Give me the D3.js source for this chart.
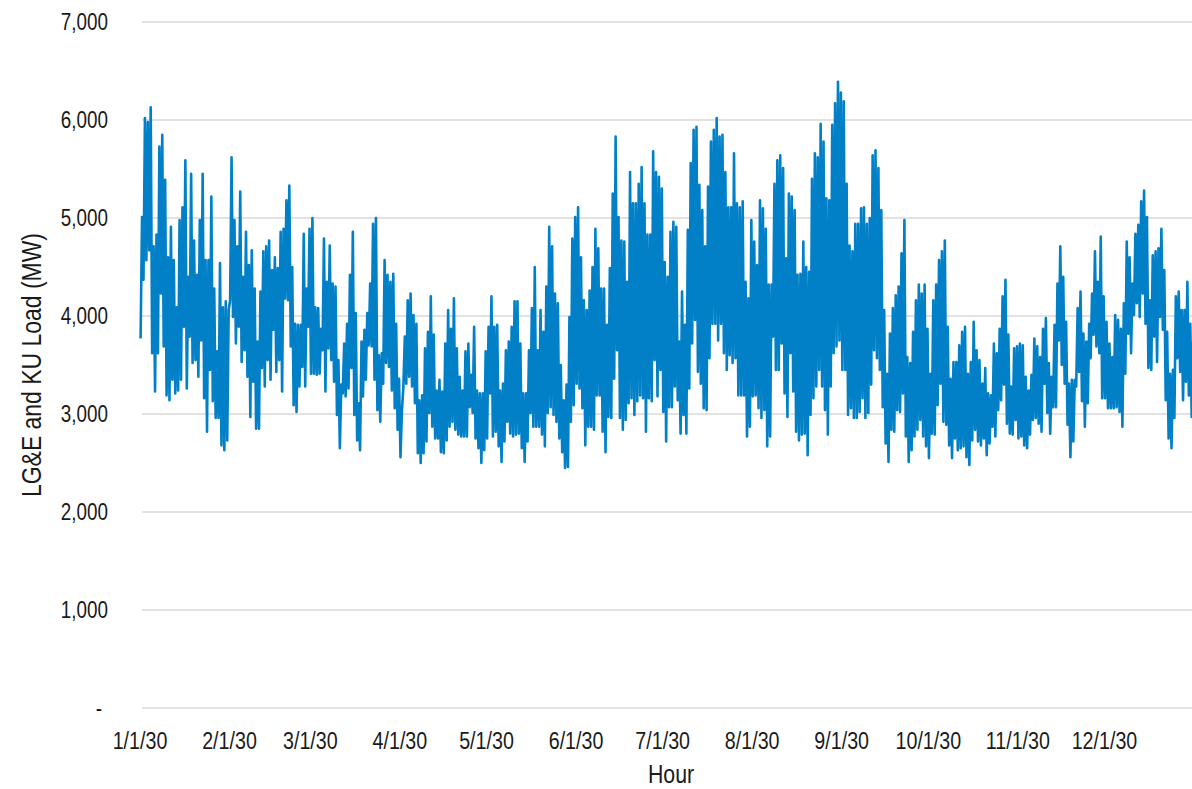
<!DOCTYPE html>
<html>
<head>
<meta charset="utf-8">
<script src="https://cdn.jsdelivr.net/npm/d3@7"></script>
<style>
  html, body { margin: 0; padding: 0; background: #fff; }
  svg { display: block; }
  text { font-family: "Liberation Sans", Arial, sans-serif; fill: #1a1a1a; }
</style>
</head>
<body>
<svg id="chart" width="1192" height="789"></svg>
<script>
// Hourly system load, 2030: each day is summarised by its overnight low and afternoon peak (MW).
const dailyHigh = [
  5010,6020,5980,6130,4710,4830,5730,5850,5390,4600,
  4910,4570,4090,4980,5110,5590,4400,5450,4770,4420,
  4980,5450,4570,4570,5220,4280,3640,4540,4090,4150,
  4060,5620,4980,4710,5270,4400,4860,4520,4670,4280,
  3740,4250,4660,4710,4770,4470,4600,4490,4860,4890,
  5180,5330,4500,3920,3910,3910,4840,4280,4890,5000,
  4090,4080,
  3870,4790,4350,4720,4330,4300,3550,3300,3720,3920,
  4420,4860,4030,3110,3740,3860,4030,4330,4940,5000,
  3600,3620,4570,4420,4350,4430,3920,3360,3040,3790,
  4160,4230,4010,3920,3140,3190,3670,3840,4200,3810,
  3240,3350,3230,3720,4060,3870,4180,3670,3380,3240,
  3640,3720,3400,3890,3240,3210,3210,3640,3890,4200,
  3890,3910,3240,3310,3650,3740,3890,4150,4150,3720,
  3210,3210,3650,4080,4500,3650,4060,3840,4300,4910,
  4710,4230,4130,3500,3140,3300,3990,4790,5010,5110,
  4600,4160,4060,4260,4500,4890,4690,4280,4280,3910,
  4490,5250,5830,5010,4770,4760,4350,5470,5150,5150,
  5350,5520,5150,4830,4830,5680,5470,5420,5300,4550,
  4400,
  4860,4960,4910,3740,4250,3910,4880,5560,5900,5930,
  5340,5080,4710,5320,5780,5900,6020,5830,5850,5470,
  5110,5110,5660,5150,5110,5170,4350,4180,4980,4760,
  4520,5180,5100,4890,4320,4320,5350,5590,5640,5510,
  4590,5250,5220,5080,4420,4430,4760,4500,4450,5400,
  5660,5620,5960,5780,5200,5180,5950,6170,6390,6280,
  6190,
  5350,4720,4660,4940,4940,5100,5110,4940,5000,5640,
  5690,5510,5080,4060,3410,3820,4080,4210,4300,4640,
  4980,3580,3520,3840,4160,4320,4230,4320,3870,3410,
  4160,4320,4570,4660,4770,3890,3360,3530,3530,3700,
  3840,3890,3410,3530,3940,3650,3550,3310,3470,3210,
  3190,3720,3620,3870,4200,4370,3810,3280,3670,3690,
  3720,3700,3380,3240,3400,3770,3690,3580,3870,3980,
  3520,3380,3910,4330,4710,4400,3940,3310,3350,3350,
  4080,4250,3820,3740,3920,4230,4660,4350,4810,4200,
  3940,3720,3580,4010,3960,3870,4130,4760,4600,4330,
  4840,4930,5170,5280,5010,4160,4620,4660,4690,4890,
  4470,3840,3410,3450,4200,4250,4060,4060,4350,3920,
  3740
];

const dailyLow = [
  3770,4370,4570,4670,3620,3230,3620,4230,3690,3190,
  3140,3350,3210,3240,3350,3890,3260,3790,3520,3550,
  3380,3750,3160,2820,3450,3130,2960,2960,2680,2630,
  2730,4160,3990,3720,3890,3530,3650,3380,2970,3330,
  2850,2850,3470,3280,3550,3350,3860,3430,3550,3230,
  4180,4160,3690,3090,3020,3280,3480,3280,3890,3410,
  3410,3400,
  3410,3650,3230,3670,3550,3330,2990,2650,3210,3180,
  3260,3470,2990,2730,2630,3180,3350,3700,3690,3350,
  3040,2920,3310,3520,3480,3240,3060,2840,2560,3280,
  3310,3380,3280,3110,2600,2500,2600,2720,3010,2870,
  2750,2750,2610,2600,2730,2870,2920,2840,2790,2770,
  2770,2770,3070,3010,2750,2650,2500,2630,2750,3210,
  2770,2820,2670,2510,2720,2920,2800,2770,2790,2800,
  2650,2510,2720,3010,2870,2870,2870,2790,2670,3010,
  3070,2990,2920,2750,2610,2450,2460,2920,3090,3310,
  3260,3060,2680,2870,2870,2840,3190,3190,2820,2610,
  2970,2960,3360,3650,2960,2840,2940,3110,3160,2990,
  3130,3190,3160,2820,3160,3130,3550,3180,3450,3020,
  2720,
  3070,3070,3280,3140,2800,2990,2800,3260,3720,3960,
  3430,3310,3060,3040,3570,3920,3920,3750,3920,3620,
  3450,3600,3520,3570,3190,3190,3190,2770,2870,3180,
  3190,3060,2960,3040,2670,2770,3790,3450,3450,3720,
  3210,2970,3620,3230,2820,2730,2790,2800,2580,2990,
  3160,3280,3450,3280,3040,2790,3280,3620,3690,3750,
  3450,
  3450,2990,3060,2960,2960,3020,3160,2960,3010,3300,
  3650,3570,3450,3070,2700,2510,2840,2820,3040,3020,
  3210,2770,2510,2630,2770,2840,2940,2770,2670,2550,
  2800,2790,3090,3310,2920,2890,2680,2550,2750,2630,
  2650,2670,2560,2480,2730,2840,2720,2680,2750,2580,
  2700,2870,2770,3040,3140,3300,2900,2800,2790,2940,
  2750,2770,2680,2650,2790,2940,2960,2900,2820,3310,
  3010,2800,3070,3070,3750,3500,3310,2890,2560,2720,
  3280,3430,3130,2870,3110,3570,3810,3690,3620,3160,
  3160,3060,3060,3060,3070,3020,2870,3410,3820,3620,
  4010,4130,3990,4230,3920,3470,3450,3790,3530,3990,
  3860,3140,2750,2650,2960,3570,3430,3140,3330,3190,
  2970
];

const yTicks = [0, 1000, 2000, 3000, 4000, 5000, 6000, 7000];
const monthLabels = ["1/1/30","2/1/30","3/1/30","4/1/30","5/1/30","6/1/30",
                     "7/1/30","8/1/30","9/1/30","10/1/30","11/1/30","12/1/30"];
const yTitle = "LG&E and KU Load (MW)";
const xTitle = "Hour";

const svg = d3.select("#chart");
const yearStart = Date.UTC(2030, 0, 1);
const HOUR = 3600 * 1000, DAY = 24 * HOUR;
const NARROW = 0.82; // condensed lettering

const x = d3.scaleUtc()
  .domain([new Date(yearStart), new Date(Date.UTC(2031, 0, 1))])
  .range([140, 1194]);
const y = d3.scaleLinear().domain([0, 7000]).range([708, 22]);

// Build the point sequence: overnight trough, then afternoon peak, for each day.
const points = [];
dailyHigh.forEach((hi, i) => {
  points.push({ t: new Date(yearStart + i * DAY + 5 * HOUR), v: dailyLow[i] });
  points.push({ t: new Date(yearStart + i * DAY + 17 * HOUR), v: hi });
});

// Horizontal gridlines
svg.append("g")
  .selectAll("line")
  .data(yTicks)
  .join("line")
  .attr("x1", 142).attr("x2", 1192)
  .attr("y1", d => y(d)).attr("y2", d => y(d))
  .attr("stroke", "#d9d9d9")
  .attr("stroke-width", 1.3);

// Y-axis tick labels (accounting style: zero shown as a dash)
const fmt = d3.format(",");
svg.append("g")
  .selectAll("text")
  .data(yTicks)
  .join("text")
  .attr("transform", d => `translate(${d === 0 ? 102 : 108},${y(d)}) scale(${NARROW},1)`)
  .attr("dy", "0.35em")
  .attr("text-anchor", "end")
  .attr("font-size", 23)
  .text(d => d === 0 ? "-" : fmt(d));

// X-axis month labels
const monthTicks = monthLabels.map((lab, i) => ({ lab, t: new Date(Date.UTC(2030, i, 1)) }));
svg.append("g")
  .selectAll("text")
  .data(monthTicks)
  .join("text")
  .attr("transform", d => `translate(${x(d.t)},749) scale(${NARROW},1)`)
  .attr("text-anchor", "middle")
  .attr("font-size", 24)
  .text(d => d.lab);

// Axis titles
svg.append("text")
  .attr("transform", `translate(671,783) scale(${NARROW},1)`)
  .attr("text-anchor", "middle")
  .attr("font-size", 26)
  .text(xTitle);

svg.append("text")
  .attr("transform", `translate(41, ${y(3500)}) rotate(-90) scale(${NARROW},1)`)
  .attr("text-anchor", "middle")
  .attr("font-size", 28)
  .text(yTitle);

// Load series
svg.append("path")
  .datum(points)
  .attr("fill", "none")
  .attr("stroke", "#0180C8")
  .attr("stroke-width", 2.6)
  .attr("stroke-linejoin", "round")
  .attr("d", d3.line().x(d => x(d.t)).y(d => y(d.v)));
</script>
</body>
</html>
